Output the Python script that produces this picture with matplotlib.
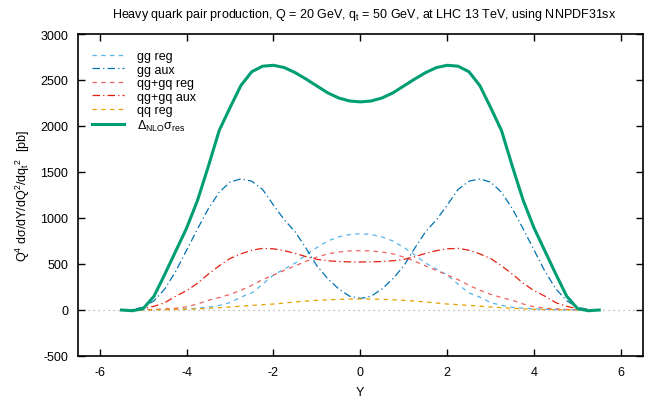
import matplotlib
matplotlib.use("Agg")
import matplotlib.pyplot as plt
import numpy as np

plt.rcParams['font.family'] = ['Liberation Sans', 'DejaVu Sans']
plt.rcParams['mathtext.fontset'] = 'custom'
plt.rcParams['mathtext.rm'] = 'Liberation Sans'
plt.rcParams['mathtext.it'] = 'Liberation Sans'
plt.rcParams['mathtext.default'] = 'regular'

Y = [-5.5, -5.25, -5.0, -4.75, -4.5, -4.25, -4.0, -3.75, -3.5, -3.25, -3.0, -2.75,
     -2.5, -2.25, -2.0, -1.75, -1.5, -1.25, -1.0, -0.75, -0.5, -0.25, 0.0,
     0.25, 0.5, 0.75, 1.0, 1.25, 1.5, 1.75, 2.0, 2.25, 2.5, 2.75, 3.0, 3.25,
     3.5, 3.75, 4.0, 4.25, 4.5, 4.75, 5.0, 5.25, 5.5]

gg_reg = [0, 1, 2, 3, 5, 8, 12, 20, 30, 50, 80, 140, 185, 280, 380, 445, 510, 600, 680, 750, 795, 820,
          830,
          820, 795, 750, 680, 600, 510, 445, 380, 280, 185, 140, 80, 50, 30, 20, 12, 8, 5, 3, 2, 1, 0]
gg_aux = [0, 5, 30, 100, 230, 420, 650, 880, 1100, 1280, 1390, 1425, 1400, 1310, 1140, 980, 850, 670, 480, 340, 230, 150,
          125,
          150, 230, 340, 480, 670, 850, 980, 1140, 1310, 1400, 1425, 1390, 1280, 1100, 880, 650, 420, 230, 100, 30, 5, 0]
qg_reg = [0, 1, 3, 6, 12, 20, 35, 65, 105, 135, 170, 215, 268, 330, 380, 430, 480, 530, 575, 610, 630, 642,
          645,
          642, 630, 610, 575, 530, 480, 430, 380, 330, 268, 215, 170, 135, 105, 65, 35, 20, 12, 6, 3, 1, 0]
qg_aux = [0, 3, 15, 40, 80, 150, 210, 290, 390, 480, 560, 610, 650, 670, 665, 645, 615, 580, 550, 535, 527, 523,
          522,
          523, 527, 535, 550, 580, 615, 645, 665, 670, 650, 610, 560, 480, 390, 290, 210, 150, 80, 40, 15, 3, 0]
qq_reg = [0, 0, 1, 2, 3, 5, 8, 12, 18, 25, 33, 42, 50, 58, 65, 76, 88, 97, 105, 111, 116, 119,
          120,
          119, 116, 111, 105, 97, 88, 76, 65, 58, 50, 42, 33, 25, 18, 12, 8, 5, 3, 2, 1, 0, 0]
nlo_res = [0, -8, 15, 150, 390, 640, 890, 1190, 1560, 1950, 2200, 2440, 2590, 2650, 2660, 2635, 2580, 2510, 2435, 2360, 2305, 2272,
           2262,
           2272, 2305, 2360, 2435, 2510, 2580, 2635, 2660, 2650, 2590, 2440, 2200, 1950, 1560, 1190, 890, 640, 390, 150, 15, -8, 0]

labels = ['gg reg', 'gg aux', 'qg+gq reg', 'qg+gq aux', 'qq reg', r'$\Delta_{NLO}\sigma_{res}$']
xticks = [-6, -4, -2, 0, 2, 4, 6]
yticks = [-500, 0, 500, 1000, 1500, 2000, 2500, 3000]

fig = plt.figure(figsize=(6.51, 4.02), dpi=100)
ax = fig.add_axes([78/651, 1-357/402, (642.7-78)/651, (357-35)/402])

ax.axhline(0, color='#aaaaaa', lw=0.9, ls=(0, (1, 3)), zorder=1)

dash = (0, (3.5, 3.5))
dashdot = (0, (6, 2.5, 1, 2.5))
ax.plot(Y, gg_reg, color='#56b4e9', lw=0.9, ls=dash, label=labels[0])
ax.plot(Y, gg_aux, color='#0072b2', lw=0.9, ls=dashdot, label=labels[1])
ax.plot(Y, qg_reg, color='#f06060', lw=0.9, ls=dash, label=labels[2])
ax.plot(Y, qg_aux, color='#e51e10', lw=0.9, ls=dashdot, label=labels[3])
ax.plot(Y, qq_reg, color='#e6a000', lw=0.9, ls=dash, label=labels[4])
ax.plot(Y, nlo_res, color='#009e73', lw=2.2, label=labels[5])

ax.set_xlim(-6.5, 6.5)
ax.set_ylim(-500, 3000)
ax.set_xticks(xticks)
ax.set_yticks(yticks)
ax.set_xticklabels([str(t) for t in xticks])
ax.set_yticklabels([str(t) for t in yticks])
ax.tick_params(direction='in', length=5, width=1, top=True, right=True, labelsize=9, pad=7)
for s in ax.spines.values():
    s.set_linewidth(1.2)

ax.set_xlabel('Y', fontsize=9, labelpad=6)
ax.set_ylabel(r'Q$^4$ d$\sigma$/dY/dQ$^2$/dq$_t$$^2$  [pb]', fontsize=9, labelpad=6)
fig.text(0.56, 0.962, r'Heavy quark pair production, Q = 20 GeV, q$_t$ = 50 GeV, at LHC 13 TeV, using NNPDF31sx',
         ha='center', va='center', fontsize=9)

leg = ax.legend(loc='upper left', frameon=False, fontsize=9, handlelength=2.6, handletextpad=1.0,
                labelspacing=0.12, borderaxespad=0.3, bbox_to_anchor=(0.009, 0.977))

fig.savefig('out.png', dpi=100)
